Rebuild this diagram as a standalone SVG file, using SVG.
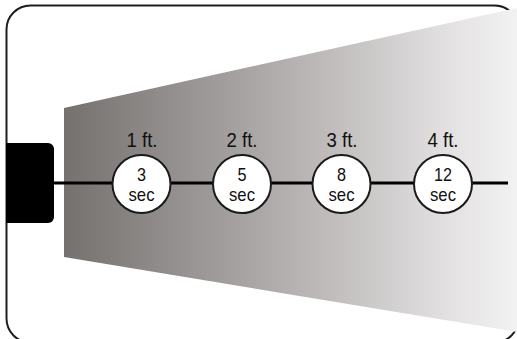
<svg xmlns="http://www.w3.org/2000/svg" width="517" height="339" viewBox="0 0 517 339">
<defs>
<linearGradient id="beam" x1="64" y1="0" x2="517" y2="0" gradientUnits="userSpaceOnUse">
<stop offset="0" stop-color="#74716f"/>
<stop offset="0.35" stop-color="#a09d9c"/>
<stop offset="0.6" stop-color="#c1bebd"/>
<stop offset="0.85" stop-color="#e3e1e2"/>
<stop offset="1" stop-color="#f3f2f3"/>
</linearGradient>
<style>
.frame{fill:#fff;stroke:#1e1e1e;stroke-width:2}
.dot{fill:#fff;stroke:#1a1a1a;stroke-width:2}
.lbl{font-family:"Liberation Sans",Arial,sans-serif;fill:#111;text-anchor:middle}
.ft{font-size:21px}
.num{font-size:18px}
.sec{font-size:19px}
.wire{stroke:#000;stroke-width:3;fill:none}
</style>
</defs>
<rect class="frame" x="6.5" y="5.5" width="512" height="337" rx="24" ry="24"/>
<polygon points="64,108 517,8 517,332 64,257" fill="url(#beam)"/>
<g id="connectors">
<line class="wire" x1="50" y1="183" x2="508" y2="183"/>
</g>
<g id="device">
<path d="M6,143 H48 A6,6 0 0 1 54,149 V217 A6,6 0 0 1 48,223 H6 Z" fill="#000"/>
</g>
<g id="n1">
<text class="lbl ft" x="142" y="147" textLength="31" lengthAdjust="spacingAndGlyphs">1 ft.</text>
<circle class="dot" cx="141.5" cy="184" r="29"/>
<text class="lbl num" x="141.5" y="181" textLength="9" lengthAdjust="spacingAndGlyphs">3</text>
<text class="lbl sec" x="141.5" y="201" textLength="26" lengthAdjust="spacingAndGlyphs">sec</text>
</g>
<g id="n2">
<text class="lbl ft" x="242" y="147" textLength="31" lengthAdjust="spacingAndGlyphs">2 ft.</text>
<circle class="dot" cx="242" cy="184" r="29"/>
<text class="lbl num" x="242" y="181" textLength="9" lengthAdjust="spacingAndGlyphs">5</text>
<text class="lbl sec" x="242" y="201" textLength="26" lengthAdjust="spacingAndGlyphs">sec</text>
</g>
<g id="n3">
<text class="lbl ft" x="342" y="147" textLength="31" lengthAdjust="spacingAndGlyphs">3 ft.</text>
<circle class="dot" cx="341.5" cy="184" r="29"/>
<text class="lbl num" x="341.5" y="181" textLength="9" lengthAdjust="spacingAndGlyphs">8</text>
<text class="lbl sec" x="341.5" y="201" textLength="26" lengthAdjust="spacingAndGlyphs">sec</text>
</g>
<g id="n4">
<text class="lbl ft" x="443" y="147" textLength="31" lengthAdjust="spacingAndGlyphs">4 ft.</text>
<circle class="dot" cx="443" cy="184" r="29"/>
<text class="lbl num" x="443" y="181" textLength="18" lengthAdjust="spacingAndGlyphs">12</text>
<text class="lbl sec" x="443" y="201" textLength="26" lengthAdjust="spacingAndGlyphs">sec</text>
</g>
</svg>
